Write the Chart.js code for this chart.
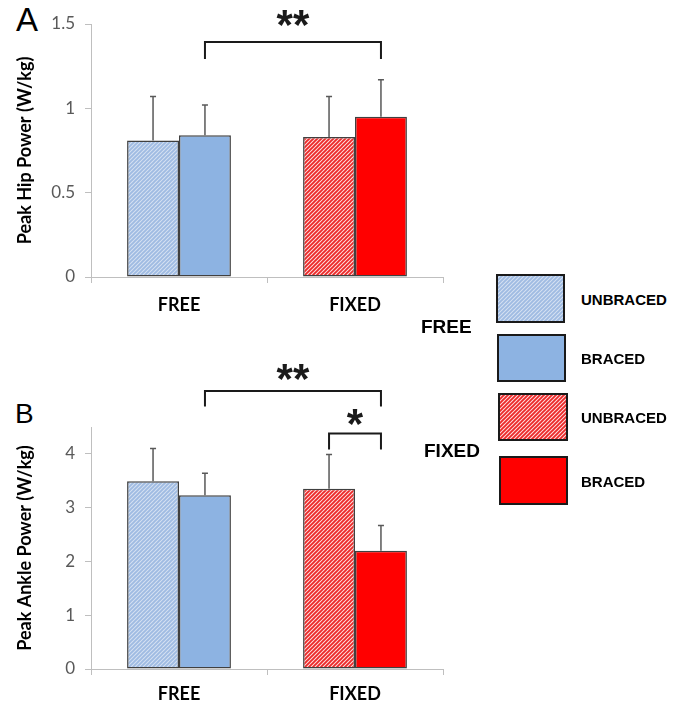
<!DOCTYPE html>
<html>
<head>
<meta charset="utf-8">
<script src="https://cdn.jsdelivr.net/npm/chart.js@4.4.1/dist/chart.umd.min.js"></script>
<style>
  body { margin: 0; background: #fff; width: 684px; height: 701px; position: relative; overflow: hidden; font-family: "Liberation Sans", Arial, sans-serif; }
  canvas { position: absolute; left: 0; }
  .letter { position: absolute; color: #000; line-height: 1; }
  .grp { position: absolute; font-weight: bold; font-size: 19px; line-height: 20px; color: #000; }
  .lbl { position: absolute; font-weight: bold; font-size: 15px; line-height: 16px; color: #000; }
  .swatch { position: absolute; box-sizing: border-box; border: 2px solid #1a1a1a; }
</style>
</head>
<body>
<div class="letter" style="left:16px;top:3px;font-size:33px;">A</div>
<canvas id="hipChart" width="450" height="320" style="top:0"></canvas>
<div class="letter" style="left:15px;top:400px;font-size:28px;">B</div>
<canvas id="ankleChart" width="450" height="361" style="top:340px"></canvas>

<div class="grp" style="left:421px;top:317px">FREE</div>
<div class="grp" style="left:424px;top:441px">FIXED</div>
<div class="swatch" id="sw0" style="left:496px;top:274px;width:69px;height:49px"></div>
<div class="swatch" id="sw1" style="left:497px;top:334px;width:69px;height:48px"></div>
<div class="swatch" id="sw2" style="left:498px;top:393px;width:70px;height:48px"></div>
<div class="swatch" id="sw3" style="left:499px;top:456px;width:69px;height:49px"></div>
<div class="lbl" id="lb0" style="left:581px;top:292px"></div>
<div class="lbl" id="lb1" style="left:581px;top:351px"></div>
<div class="lbl" id="lb2" style="left:581px;top:410px"></div>
<div class="lbl" id="lb3" style="left:581px;top:474px"></div>

<script>
const groups = ["FREE", "FIXED"];

const hipUnbraced = [0.81, 0.83];
const hipBraced = [0.84, 0.95];
const hipUnbracedSd = [0.26, 0.24];
const hipBracedSd = [0.18, 0.22];
const hipTicks = [0, 0.5, 1, 1.5];

const ankleUnbraced = [3.49, 3.35];
const ankleBraced = [3.23, 2.2];
const ankleUnbracedSd = [0.61, 0.64];
const ankleBracedSd = [0.41, 0.47];
const ankleTicks = [0, 1, 2, 3, 4];

const legendLabels = ["UNBRACED", "BRACED", "UNBRACED", "BRACED"];

const blueSolid = "#8db3e2";
const redSolid = "#ff0000";

// diagonal hatch tile, "/" direction
const hatchTile = (bg, stripe) => {
  const s = 4;
  const c = document.createElement("canvas");
  c.width = s;
  c.height = s;
  const g = c.getContext("2d");
  g.fillStyle = bg;
  g.fillRect(0, 0, s, s);
  g.strokeStyle = stripe;
  g.lineWidth = 1.9;
  g.beginPath();
  g.moveTo(0, s); g.lineTo(s, 0);
  g.moveTo(-s / 2, s / 2); g.lineTo(s / 2, -s / 2);
  g.moveTo(s / 2, s * 1.5); g.lineTo(s * 1.5, s / 2);
  g.stroke();
  return c;
};

const blueTile = hatchTile("#d6e2f2", "#9fbbe2");
const redTile = hatchTile("#fde0e0", "#ec2a2a");

const errorBars = (sds) => ({
  id: "errorBars",
  afterDatasetsDraw(chart) {
    const ctx = chart.ctx;
    const y = chart.scales.y;
    ctx.save();
    ctx.strokeStyle = "#595959";
    ctx.lineWidth = 1.5;
    chart.data.datasets.forEach((ds, i) => {
      chart.getDatasetMeta(i).data.forEach((bar, j) => {
        const top = y.getPixelForValue(ds.data[j] + sds[i][j]);
        ctx.beginPath();
        ctx.moveTo(bar.x, bar.y);
        ctx.lineTo(bar.x, top);
        ctx.moveTo(bar.x - 3, top);
        ctx.lineTo(bar.x + 3, top);
        ctx.stroke();
      });
    });
    ctx.restore();
  },
});

const brackets = (list) => ({
  id: "brackets",
  afterDraw(chart) {
    const ctx = chart.ctx;
    const y = chart.scales.y;
    ctx.save();
    ctx.strokeStyle = "#1a1a1a";
    ctx.fillStyle = "#1a1a1a";
    ctx.lineWidth = 2;
    list.forEach((b) => {
      const x1 = chart.getDatasetMeta(b.from[0]).data[b.from[1]].x;
      const x2 = chart.getDatasetMeta(b.to[0]).data[b.to[1]].x;
      const yl = y.getPixelForValue(b.level);
      const yd = y.getPixelForValue(b.drop);
      ctx.beginPath();
      ctx.moveTo(x1, yd);
      ctx.lineTo(x1, yl);
      ctx.lineTo(x2, yl);
      ctx.lineTo(x2, yd);
      ctx.stroke();
      ctx.font = "bold 42px 'Liberation Sans', Arial, sans-serif";
      ctx.textAlign = "center";
      ctx.textBaseline = "alphabetic";
      const m = ctx.measureText(b.text);
      const cy = y.getPixelForValue(b.textAt);
      const base = cy - (m.actualBoundingBoxDescent - m.actualBoundingBoxAscent) / 2;
      ctx.fillText(b.text, (x1 + x2) / 2, base);
    });
    ctx.restore();
  },
});

const axisGrey = "#bfbfbf";

const makeChart = (el, unbraced, braced, sds, max, ticks, title, pad, xHeight, labelPad, bracketList) => {
  const ctx = el.getContext("2d");
  const bluePat = ctx.createPattern(blueTile, "repeat");
  const redPat = ctx.createPattern(redTile, "repeat");
  return new Chart(ctx, {
    type: "bar",
    data: {
      labels: groups,
      datasets: [
        {
          label: "UNBRACED",
          data: unbraced,
          backgroundColor: [bluePat, redPat],
          borderColor: "#404040",
          borderWidth: 1.5,
          borderSkipped: false,
        },
        {
          label: "BRACED",
          data: braced,
          backgroundColor: [blueSolid, redSolid],
          borderColor: "#404040",
          borderWidth: 1.5,
          borderSkipped: false,
        },
      ],
    },
    options: {
      responsive: false,
      animation: false,
      events: [],
      layout: { padding: pad },
      datasets: { bar: { barPercentage: 1, categoryPercentage: 0.59 } },
      plugins: { legend: { display: false }, tooltip: { enabled: false } },
      scales: {
        x: {
          grid: { drawOnChartArea: false, drawTicks: true, tickLength: 6, color: axisGrey },
          border: { color: axisGrey, width: 1 },
          ticks: {
            color: "#000",
            padding: labelPad,
            font: { family: "Lato", weight: "bold", size: 18 },
          },
          afterFit: (s) => { s.height = xHeight; },
        },
        y: {
          min: 0,
          max: max,
          grid: { drawOnChartArea: false, drawTicks: true, tickLength: 6, color: axisGrey },
          border: { color: axisGrey, width: 1 },
          ticks: {
            color: "#595959",
            padding: 10,
            font: { family: "Lato", size: 17 },
            callback: (v) => String(v),
          },
          afterBuildTicks: (s) => { s.ticks = ticks.map((v) => ({ value: v })); },
          afterFit: (s) => { s.width = 91; },
          title: {
            display: true,
            text: title,
            color: "#000",
            padding: { top: 14, bottom: 0 },
            font: { family: "Lato", weight: "bold", size: 18 },
          },
        },
      },
    },
    plugins: [errorBars(sds), brackets(bracketList)],
  });
};

makeChart(
  document.getElementById("hipChart"),
  hipUnbraced, hipBraced, [hipUnbracedSd, hipBracedSd],
  1.5, hipTicks, "Peak Hip Power (W/kg)",
  { top: 24, right: 7, left: 0, bottom: 0 }, 43, 11,
  [{ from: [1, 0], to: [1, 1], level: 1.393, drop: 1.292, text: "**", textAt: 1.533 }]
);

makeChart(
  document.getElementById("ankleChart"),
  ankleUnbraced, ankleBraced, [ankleUnbracedSd, ankleBracedSd],
  4.5, ankleTicks, "Peak Ankle Power (W/kg)",
  { top: 87, right: 7, left: 0, bottom: 0 }, 32, 8,
  [
    { from: [1, 0], to: [1, 1], level: 5.17, drop: 4.88, text: "**", textAt: 5.52 },
    { from: [0, 1], to: [1, 1], level: 4.38, drop: 4.08, text: "*", textAt: 4.69 },
  ]
);

// legend swatches share the bar fills
const swatchFills = [
  "url(" + blueTile.toDataURL() + ")",
  blueSolid,
  "url(" + redTile.toDataURL() + ")",
  redSolid,
];
swatchFills.forEach((f, i) => {
  document.getElementById("sw" + i).style.background = f;
  document.getElementById("lb" + i).textContent = legendLabels[i];
});
</script>
</body>
</html>
